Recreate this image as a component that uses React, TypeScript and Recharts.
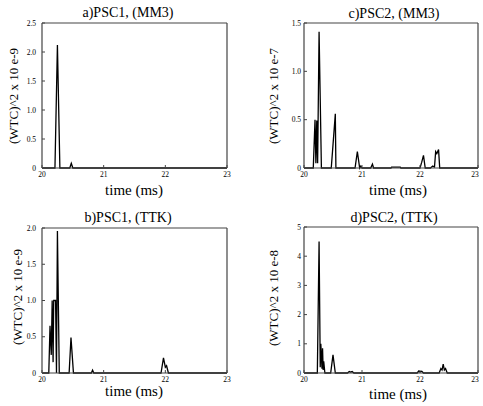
import React from 'react'
import { LineChart, Line, XAxis, YAxis } from 'recharts'

const FONT = '"Liberation Serif", "DejaVu Serif", serif'
const AXIS = '#444'

// a) PSC1, MM3
const aTime = [20.0, 20.21, 20.25, 20.29, 20.45, 20.475, 20.5, 23.0]
const aValue = [0, 0, 2.12, 0, 0, 0.08, 0, 0]
const aTicks = [0, 0.5, 1.0, 1.5, 2.0, 2.5]

// c) PSC2, MM3
const cTime = [
  20, 20.16, 20.19, 20.205, 20.22, 20.235, 20.26, 20.3, 20.47, 20.54, 20.55, 20.88, 20.92, 20.96,
  20.98, 21.0, 21.15, 21.18, 21.2, 21.5, 21.51, 21.66, 21.67, 22.0, 22.03, 22.06, 22.09, 22.18,
  22.22, 22.25, 22.27, 22.29, 22.32, 22.34, 23,
]
const cValue = [
  0, 0, 0.5, 0.05, 0.49, 0.05, 1.41, 0, 0, 0.56, 0, 0, 0.17, 0, 0.02, 0, 0, 0.04, 0, 0, 0.01, 0.01,
  0, 0, 0.06, 0.13, 0, 0, 0.02, 0.01, 0.17, 0.15, 0.19, 0, 0,
]
const cTicks = [0, 0.5, 1.0, 1.5]

// b) PSC1, TTK
const bTime = [
  20, 20.11, 20.13, 20.15, 20.165, 20.18, 20.19, 20.22, 20.235, 20.25, 20.28, 20.44, 20.47, 20.51,
  20.8, 20.82, 20.84, 21.93, 21.97, 22.0, 22.02, 22.05, 23,
]
const bValue = [
  0, 0, 0.65, 0.25, 1.0, 0.15, 1.0, 1.0, 0, 1.96, 0, 0, 0.49, 0, 0, 0.04, 0, 0, 0.21, 0.08, 0.1, 0, 0,
]
const bTicks = [0, 0.5, 1.0, 1.5, 2.0]

// d) PSC2, TTK
const dTime = [
  20, 20.23, 20.26, 20.28, 20.29, 20.31, 20.32, 20.33, 20.34, 20.36, 20.46, 20.5, 20.54, 20.75,
  20.78, 20.8, 20.83, 20.86, 21.95, 21.98, 22.0, 22.03, 22.06, 22.33, 22.36, 22.38, 22.4, 22.42,
  22.44, 22.47, 23,
]
const dValue = [
  0, 0, 4.5, 0.2, 1.0, 0.15, 0.85, 0.1, 0.4, 0, 0, 0.62, 0, 0, 0.05, 0.03, 0.05, 0, 0, 0.07, 0.04,
  0.06, 0, 0, 0.15, 0.1, 0.3, 0.1, 0.15, 0, 0,
]
const dTicks = [0, 1, 2, 3, 4, 5]

const timeTicks = [20, 21, 22, 23]

interface PanelProps {
  title: string
  yLabel: string
  time: number[]
  value: number[]
  yTicks: number[]
  intTicks?: boolean
  left: number
  top: number
  width: number
  height: number
  plotLeft: number
  plotTop: number
  plotRight: number
  plotBottom: number
  titleX: number
  titleY: number
  xLabelX: number
  xLabelY: number
  yLabelX: number
  yLabelY: number
  yTickMargin: number
}

function Panel(p: PanelProps) {
  const data = p.time.map((t, i) => ({ t, v: p.value[i] }))
  const yMax = p.yTicks[p.yTicks.length - 1]
  const fmt = (v: number) => (v === 0 ? '0' : p.intTicks ? String(v) : v.toFixed(1))

  const xTick = (props: any) => (
    <text x={props.x} y={props.y} dy="0.71em" textAnchor="middle" fontSize={7.5} fontFamily={FONT} fill="#000">
      {props.payload.value}
    </text>
  )
  const yTick = (props: any) => (
    <text x={props.x} y={props.y} dy="0.35em" textAnchor="end" fontSize={7.5} fontFamily={FONT} fill="#000">
      {fmt(props.payload.value)}
    </text>
  )

  return (
    <div style={{ position: 'absolute', left: p.left, top: p.top, fontFamily: FONT }}>
      <LineChart
        width={p.width}
        height={p.height}
        data={data}
        margin={{ top: p.plotTop - 1, right: p.width - p.plotRight - 1, bottom: 0, left: 0 }}
      >
        <XAxis
          dataKey="t"
          type="number"
          domain={[20, 23]}
          ticks={timeTicks}
          height={p.height - p.plotBottom}
          tickSize={-3}
          tickMargin={7}
          tick={xTick}
          axisLine={{ stroke: AXIS, strokeWidth: 1.2 }}
          tickLine={{ stroke: AXIS }}
          label={{
            content: () => (
              <text x={p.xLabelX} y={p.xLabelY} textAnchor="middle" fontSize={15} fontFamily={FONT} fill="#000">
                time (ms)
              </text>
            ),
          }}
        />
        <XAxis
          xAxisId="top"
          orientation="top"
          dataKey="t"
          type="number"
          domain={[20, 23]}
          ticks={timeTicks}
          height={1}
          tick={false}
          tickSize={-3}
          axisLine={{ stroke: AXIS, strokeWidth: 1.2 }}
          tickLine={{ stroke: AXIS }}
          label={{
            content: () => (
              <text x={p.titleX} y={p.titleY} textAnchor="middle" fontSize={14} fontFamily={FONT} fill="#000">
                {p.title}
              </text>
            ),
          }}
        />
        <YAxis
          type="number"
          domain={[0, yMax]}
          ticks={p.yTicks}
          width={p.plotLeft}
          tickSize={-3}
          tickMargin={p.yTickMargin}
          tick={yTick}
          axisLine={{ stroke: AXIS, strokeWidth: 1.2 }}
          tickLine={{ stroke: AXIS }}
          label={{
            content: () => (
              <text
                x={p.yLabelX}
                y={p.yLabelY}
                textAnchor="middle"
                dominantBaseline="central"
                transform={`rotate(-90, ${p.yLabelX}, ${p.yLabelY})`}
                fontSize={13}
                fontFamily={FONT}
                fill="#000"
              >
                {p.yLabel}
              </text>
            ),
          }}
        />
        <YAxis
          yAxisId="r"
          orientation="right"
          type="number"
          domain={[0, yMax]}
          ticks={p.yTicks}
          width={1}
          tick={false}
          tickSize={-3}
          axisLine={{ stroke: AXIS, strokeWidth: 1.2 }}
          tickLine={{ stroke: AXIS }}
        />
        <Line
          type="linear"
          dataKey="v"
          stroke="#000"
          strokeWidth={1.3}
          dot={false}
          activeDot={false}
          isAnimationActive={false}
        />
        {/* invisible twin so the top and right frame axes get drawn */}
        <Line
          xAxisId="top"
          yAxisId="r"
          type="linear"
          dataKey="v"
          stroke="none"
          dot={false}
          activeDot={false}
          isAnimationActive={false}
        />
      </LineChart>
    </div>
  )
}

export default function App() {
  return (
    <div style={{ position: 'absolute', left: 0, top: 0, width: 483, height: 406, background: '#fff' }}>
      <Panel
        title="a)PSC1, (MM3)"
        yLabel="(WTC)^2 x 10 e-9"
        time={aTime}
        value={aValue}
        yTicks={aTicks}
        left={0}
        top={0}
        width={240}
        height={200}
        plotLeft={42}
        plotTop={23}
        plotRight={227}
        plotBottom={168}
        titleX={128}
        titleY={17}
        xLabelX={134}
        xLabelY={195}
        yLabelX={13}
        yLabelY={96}
        yTickMargin={9}
      />
      <Panel
        title="c)PSC2, (MM3)"
        yLabel="(WTC)^2 x 10 e-7"
        time={cTime}
        value={cValue}
        yTicks={cTicks}
        left={240}
        top={0}
        width={243}
        height={200}
        plotLeft={64}
        plotTop={23}
        plotRight={238}
        plotBottom={168}
        titleX={154}
        titleY={18}
        xLabelX={158}
        xLabelY={195}
        yLabelX={33}
        yLabelY={96}
        yTickMargin={6}
      />
      <Panel
        title="b)PSC1, (TTK)"
        yLabel="(WTC)^2 x 10 e-9"
        time={bTime}
        value={bValue}
        yTicks={bTicks}
        left={0}
        top={200}
        width={240}
        height={206}
        plotLeft={42}
        plotTop={28}
        plotRight={227}
        plotBottom={173}
        titleX={128}
        titleY={22}
        xLabelX={134}
        xLabelY={196}
        yLabelX={17}
        yLabelY={97}
        yTickMargin={9}
      />
      <Panel
        title="d)PSC2, (TTK)"
        yLabel="(WTC)^2 x 10 e-8"
        time={dTime}
        value={dValue}
        yTicks={dTicks}
        intTicks
        left={240}
        top={200}
        width={243}
        height={206}
        plotLeft={64}
        plotTop={27}
        plotRight={238}
        plotBottom={173}
        titleX={154}
        titleY={22}
        xLabelX={158}
        xLabelY={199}
        yLabelX={33}
        yLabelY={98}
        yTickMargin={6}
      />
    </div>
  )
}
